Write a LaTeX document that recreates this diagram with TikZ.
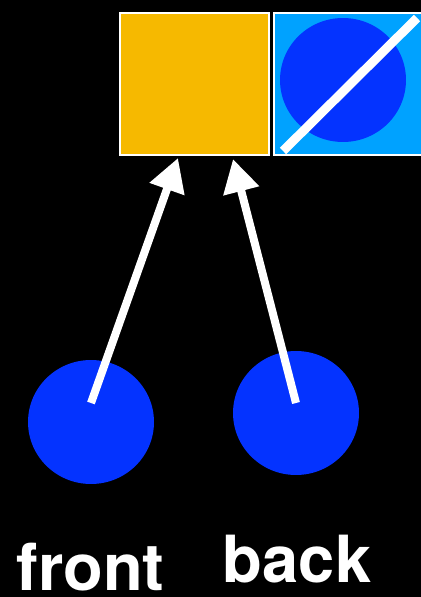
\documentclass[tikz,border=0pt]{standalone}
\usepackage{fontspec}
\setmainfont{TeX Gyre Heros}
\usetikzlibrary{arrows.meta,shapes.geometric}
\definecolor{ballblue}{HTML}{0433FF}
\definecolor{skyblue}{HTML}{00A2FF}
\definecolor{amber}{HTML}{F6B900}
\tikzset{
  ball/.style={shape=ellipse,fill=ballblue,inner sep=0pt,minimum width=2.52cm,minimum height=2.48cm},
  tile/.style={shape=rectangle,draw=white,line width=0.04cm,inner sep=0pt,minimum height=2.84cm},
  pointer/.style={-{Triangle[width=0.7cm,length=0.66cm]},white,line width=0.16cm},
  word/.style={text=white,font=\fontsize{37}{37}\selectfont\bfseries,inner sep=0pt,anchor=base}
}
\begin{document}
\begin{tikzpicture}[x=0.02cm,y=-0.02cm]
      \useasboundingbox[fill=black] (0,0) rectangle (421,597);
      \clip (0,0) rectangle (421,597);
      \node[tile,fill=amber,minimum width=3cm] (A) at (194.5,84) {};
      \node[tile,fill=skyblue,minimum width=3.04cm] (C) at (350,84) {};
      \node[ball] (M) at (343,80) {};
      \node[ball] (F) at (91,422) {};
      \node[ball] (B) at (296,413) {};

      \coordinate (S1) at (283,151);
      \coordinate (S2) at (417,18);
      \draw[white,line width=0.18cm] (S1) to (S2);

      \coordinate (FT) at (91,403);
      \coordinate (BT) at (296,403);
      \coordinate (FH) at (178,158);
      \coordinate (BH) at (233,159);
      \draw[pointer] (FT) to (FH);
      \draw[pointer] (BT) to (BH);

      \node[word] (FL) at (90.5,590) {front};
      \node[word] (BL) at (297,582) {back};
    \end{tikzpicture}
\end{document}
